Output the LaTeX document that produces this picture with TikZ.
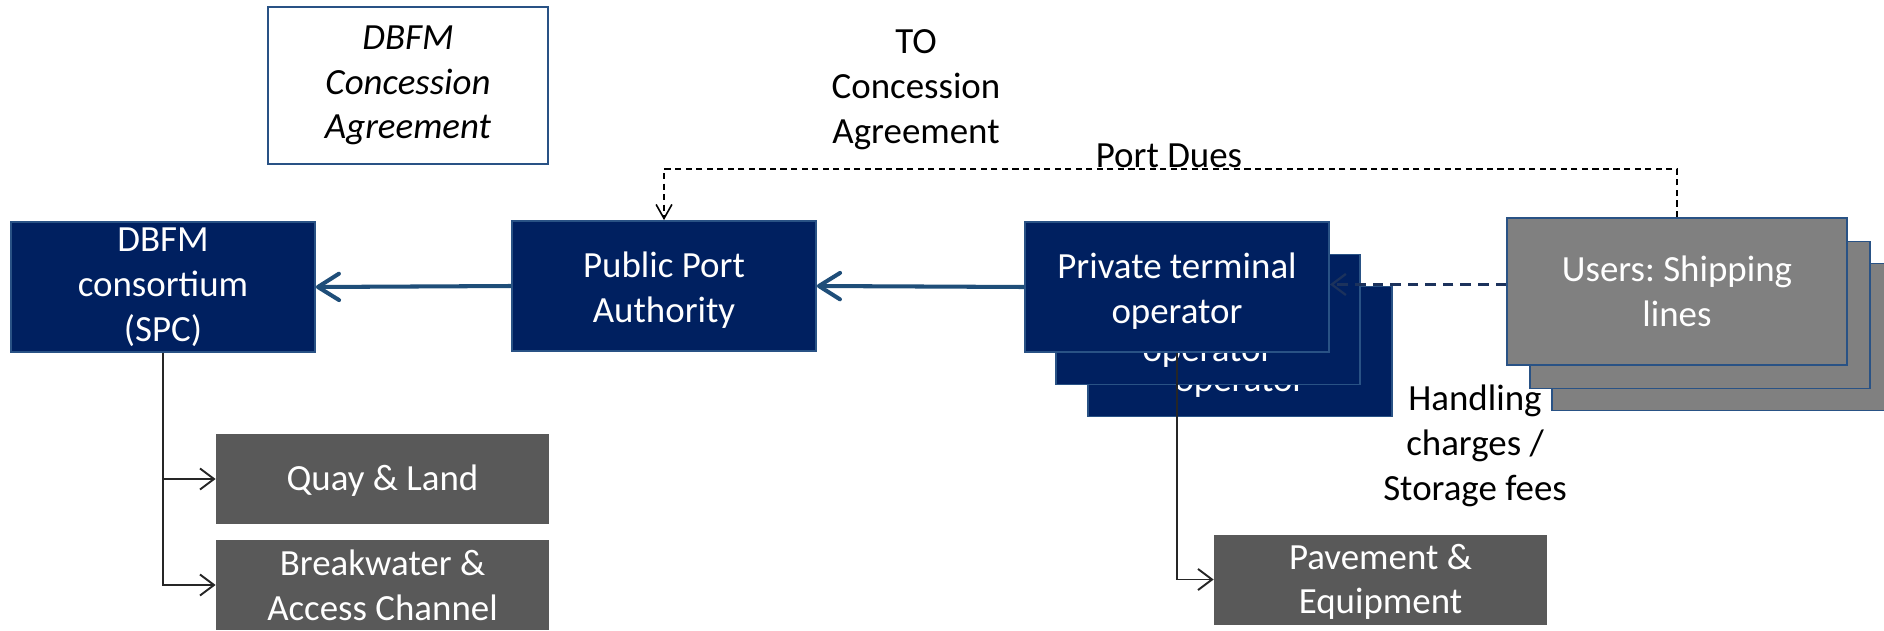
\documentclass[tikz,border=0pt]{standalone}
\usepackage{fontspec}
\setmainfont{Carlito}
\usetikzlibrary{positioning,arrows.meta}
\definecolor{navy}{RGB}{0,32,96}
\definecolor{edgeblue}{RGB}{41,82,133}
\definecolor{flowblue}{RGB}{31,78,121}
\definecolor{usergray}{RGB}{128,128,128}
\definecolor{assetgray}{RGB}{89,89,89}
\definecolor{dashnavy}{RGB}{28,50,92}
\newcommand{\bodyfont}{\fontsize{21}{25.5}\selectfont\frenchspacing}

\tikzset{
  party/.style={draw=edgeblue, line width=1pt, fill=navy, text=white, align=center,
    minimum width=6.08cm, minimum height=2.6cm, inner sep=0pt},
  user/.style={draw=edgeblue, line width=1pt, fill=usergray, text=white, align=center,
    minimum width=6.8cm, minimum height=2.94cm, inner sep=0pt},
  asset/.style={fill=assetgray, text=white, align=center,
    minimum width=6.66cm, minimum height=1.8cm, inner sep=0pt},
  plaintext/.style={align=center, inner sep=0pt},
  flow/.style={draw=flowblue, line width=2.3pt, -{Straight Barb[length=12pt,width=15pt,round]}},
  feed/.style={draw=black!85, line width=1.1pt, -{Straight Barb[length=8pt,width=12pt]}},
  dues/.style={draw=black, line width=0.9pt, dash pattern=on 3.5pt off 2.5pt,
    -{Straight Barb[length=8pt,width=9pt]}},
  charge/.style={draw=dashnavy, line width=1.3pt, dash pattern=on 6pt off 4pt,
    -{Straight Barb[length=8pt,width=12pt]}},
}

\begin{document}
\begin{tikzpicture}[font=\bodyfont]
    \useasboundingbox (0,0) rectangle (37.68,12.6);

    % agreements
    \node[draw=edgeblue, line width=1pt, fill=white, align=center, minimum width=5.6cm,
      minimum height=3.14cm, inner sep=0pt, font=\bodyfont\itshape] (dbfmca) at (8.16,10.89)
      {DBFM\\Concession\\Agreement};
    \node[plaintext] (toca) at (18.32,10.80) {TO\\Concession\\Agreement};

    % parties
    \node[party] (dbfm) at (3.26,6.86) {DBFM\\consortium\\(SPC)};
    \node[party] (ppa) at (13.28,6.88) {\rule{0pt}{19pt}Public Port\\Authority};
    \node[party] (pto3) at (24.80,5.57) {\rule{0pt}{23pt}Private terminal\\operator};
    \node[party] (pto2) at (24.16,6.21) {\rule{0pt}{25.5pt}Private terminal\\operator};
    \node[party] (pto) at (23.54,6.86) {\rule{0pt}{19pt}Private terminal\\operator};
    \node[user] (users3) at (34.44,5.86) {Users: Shipping\\lines};
    \node[user] (users2) at (34.00,6.30) {Users: Shipping\\lines};
    \node[user] (users) at (33.54,6.77) {Users: Shipping\\lines};

    % assets
    \node[asset] (quay) at (7.65,3.02) {\rule{0pt}{17pt}Quay \& Land};
    \node[asset] (breakwater) at (7.65,0.90) {Breakwater \&\\Access Channel};
    \node[asset] (pavement) at (27.61,1.01) {\rule{0pt}{17pt}Pavement \&\\Equipment};

    % payments
    \draw[flow] (ppa.west) -- (dbfm.east);
    \draw[flow] (pto.west) -- (ppa.east);
    \draw[dues] (users.north) -- ++(0,0.96) -| (ppa.north);
    \node[plaintext] (portdues) at (23.38,9.48) {Port Dues};
    \draw[charge] ([yshift=4pt]users.west) -- ([yshift=4pt]users.west -| pto.east);
    \node[plaintext] (handling) at (29.50,3.68) {Handling\\charges /\\Storage fees};

    % ownership of assets
    \draw[feed] (dbfm.south) |- (quay.west);
    \draw[feed] (dbfm.south) |- (breakwater.west);
    \draw[feed] (pto.south) |- (pavement.west);
\end{tikzpicture}
\end{document}
